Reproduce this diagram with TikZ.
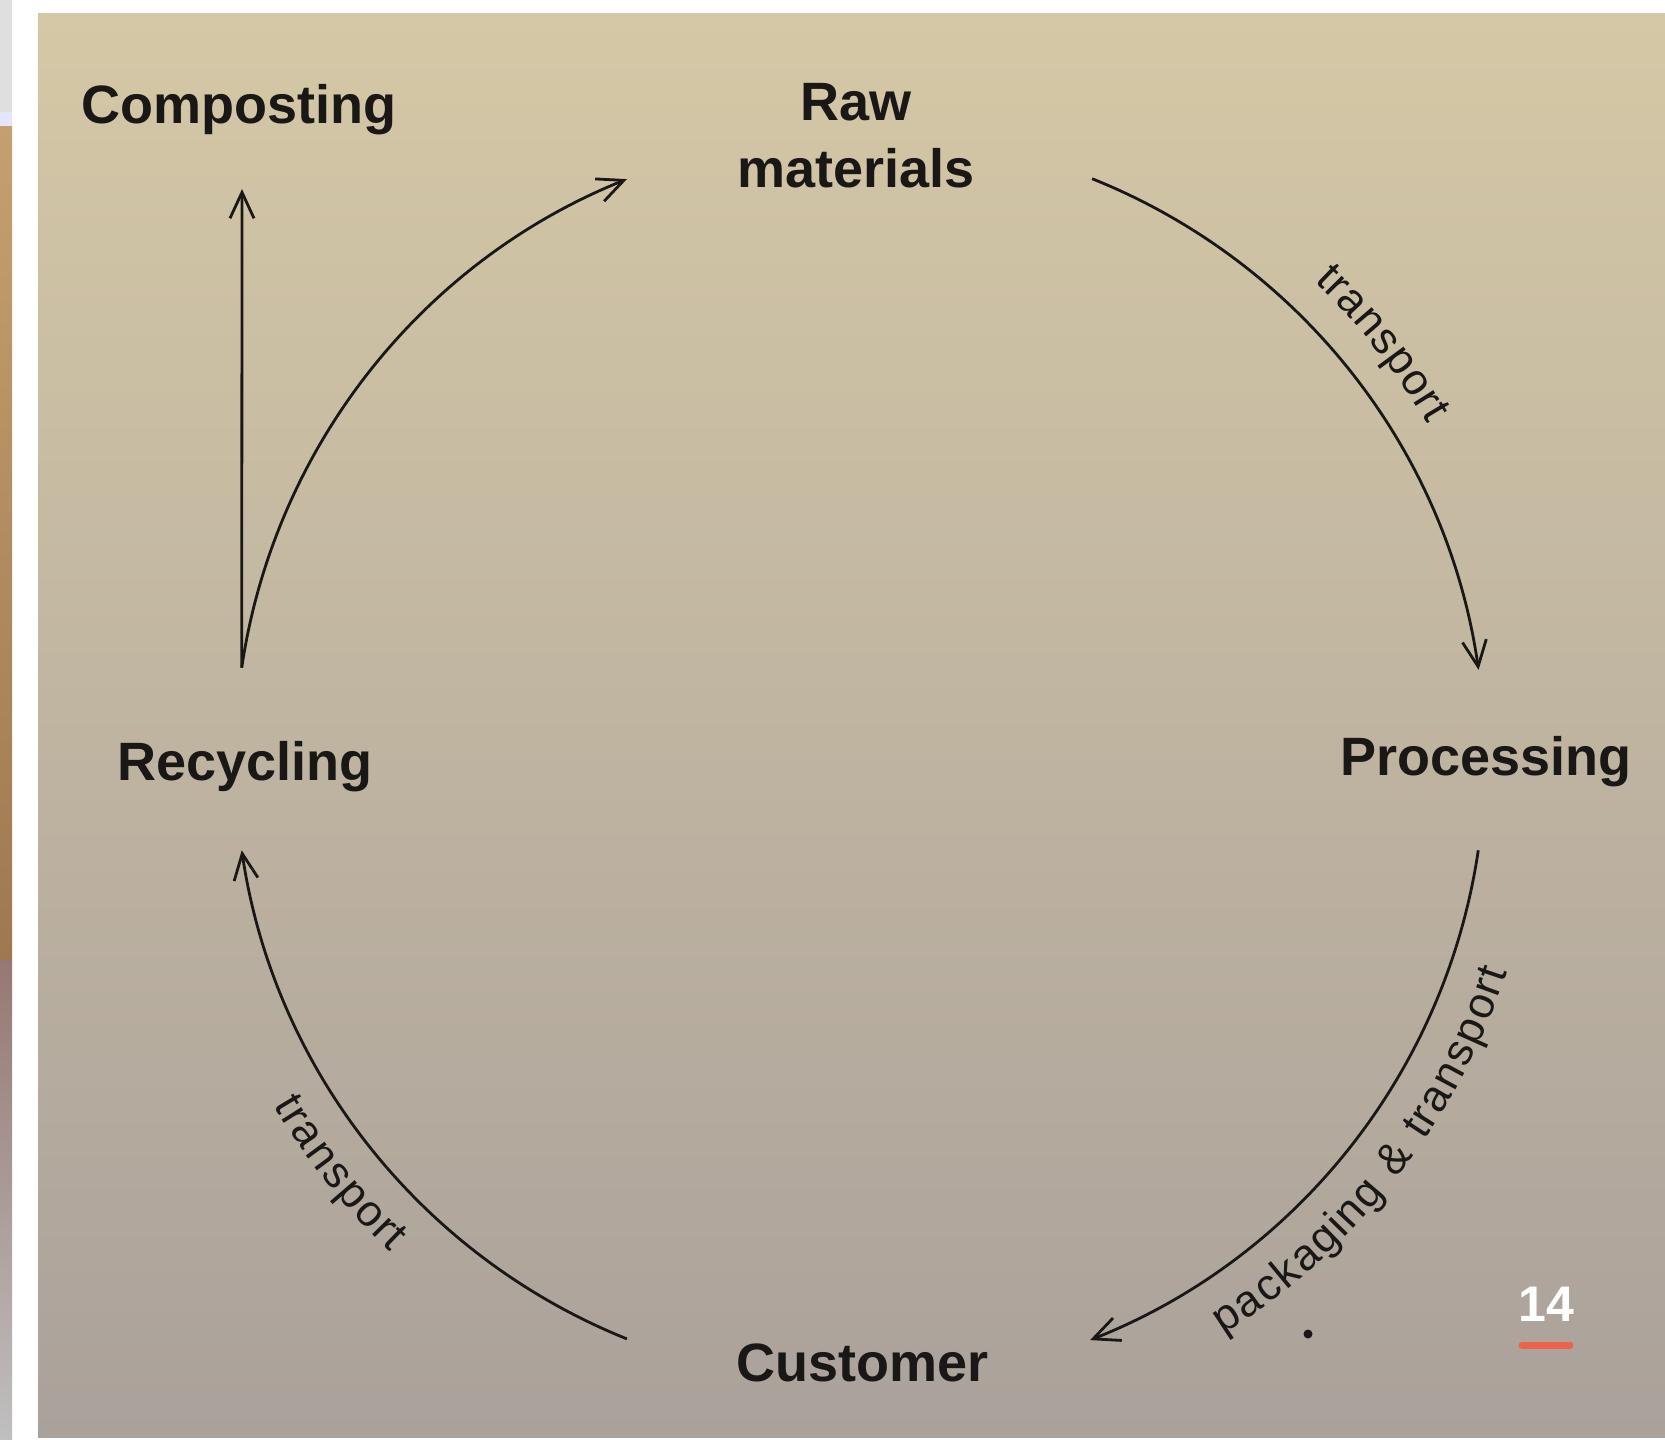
\documentclass[tikz,border=0pt]{standalone}
\usepackage{fontspec}
\setmainfont{Liberation Sans}
\newfontfamily\thinlabel{Liberation Sans}[LetterSpace=5]
\usetikzlibrary{arrows.meta,decorations.text,calc}
\definecolor{pagetop}{RGB}{213,200,166}
\definecolor{pagemid}{RGB}{199,192,172}
\definecolor{pagebot}{RGB}{170,161,155}
\definecolor{ink}{RGB}{26,24,22}
\definecolor{accent}{RGB}{238,98,76}
\definecolor{wood}{RGB}{196,160,112}
\definecolor{woodd}{RGB}{160,120,80}
\definecolor{photo}{RGB}{150,120,115}
\newcommand{\lblfont}{\thinlabel\fontsize{44}{54}\selectfont}
\begin{document}
\begin{tikzpicture}[x=1pt,y=1pt,
  stage/.style={font=\fontsize{54}{67}\selectfont\bfseries, text=ink, inner sep=0pt, align=center},
  flow/.style={draw=ink, line width=2.8pt, -{Straight Barb[length=26pt,width=24pt,line width=2.8pt]}},
  curvelabel/.style={decorate, decoration={text along path, text align=center, raise=#1}}]
\useasboundingbox (0,0) rectangle (1665,-1440);
\fill[white] (0,0) rectangle (1665,-1440);
% left strip of neighbouring photo
\fill[gray!25] (0,0) rectangle (12,-112);
\fill[blue!10] (0,-112) rectangle (12,-126);
\shade[top color=wood, bottom color=woodd] (0,-126) rectangle (12,-960);
\shade[top color=photo, bottom color=gray!50] (0,-960) rectangle (12,-1440);
% page
\shade[top color=pagetop, middle color=pagemid, bottom color=pagebot] (38,-13) rectangle (1665,-1437);

% stages
\node[stage, anchor=base] (comp) at (239,-123) {Composting};
\node[stage] (raw) at (856,-136) {Raw\\materials};
\node[stage, anchor=base] (rec) at (245,-780) {Recycling};
\node[stage, anchor=base] (proc) at (1486,-775) {Processing};
\node[stage, anchor=base] (cust) at (863,-1381) {Customer};

% cycle geometry
\coordinate (O) at (860,-759);
\coordinate (raw-out) at ($(O)+(68.2:625)$);
\coordinate (proc-out) at ($(O)+(-8.4:625)$);
\coordinate (cust-out) at ($(O)+(248.1:625)$);
\coordinate (rec-out) at ($(O)+(171.6:625)$);
\coordinate (comp-in) at (242,-189);

\draw[flow] (raw-out) arc[start angle=68.2, end angle=8.2, radius=625];
\draw[flow] (proc-out) arc[start angle=-8.4, end angle=-68.4, radius=625];
\draw[flow] (cust-out) arc[start angle=248.1, end angle=188.4, radius=625];
\draw[flow] (rec-out) arc[start angle=171.6, end angle=111.9, radius=625];
\draw[flow] (rec-out) -- (comp-in);

% curved labels
\path[curvelabel=34pt, decoration={text={|\lblfont\color{ink}|transport}}]
  ($(O)+(60:625)$) arc[start angle=60, end angle=17, radius=625];
\path[curvelabel=-56pt, decoration={text={|\lblfont\color{ink}|packaging {\&} transport}}]
  ($(O)+(-66:625)$) arc[start angle=-66, end angle=-10, radius=625];
\path[curvelabel=-56pt, decoration={text={|\lblfont\color{ink}|transport}}]
  ($(O)+(197:625)$) arc[start angle=197, end angle=240, radius=625];

% stray dot on the page
\fill[ink] (1308,-1334) circle (4.5);

% page number
\node[font=\fontsize{50}{60}\selectfont\bfseries, text=white, inner sep=0pt, anchor=base] (pg) at (1546,-1321) {14};
\draw[accent, line width=7pt, line cap=round] (1522,-1345) -- (1570,-1345);
\end{tikzpicture}
\end{document}
